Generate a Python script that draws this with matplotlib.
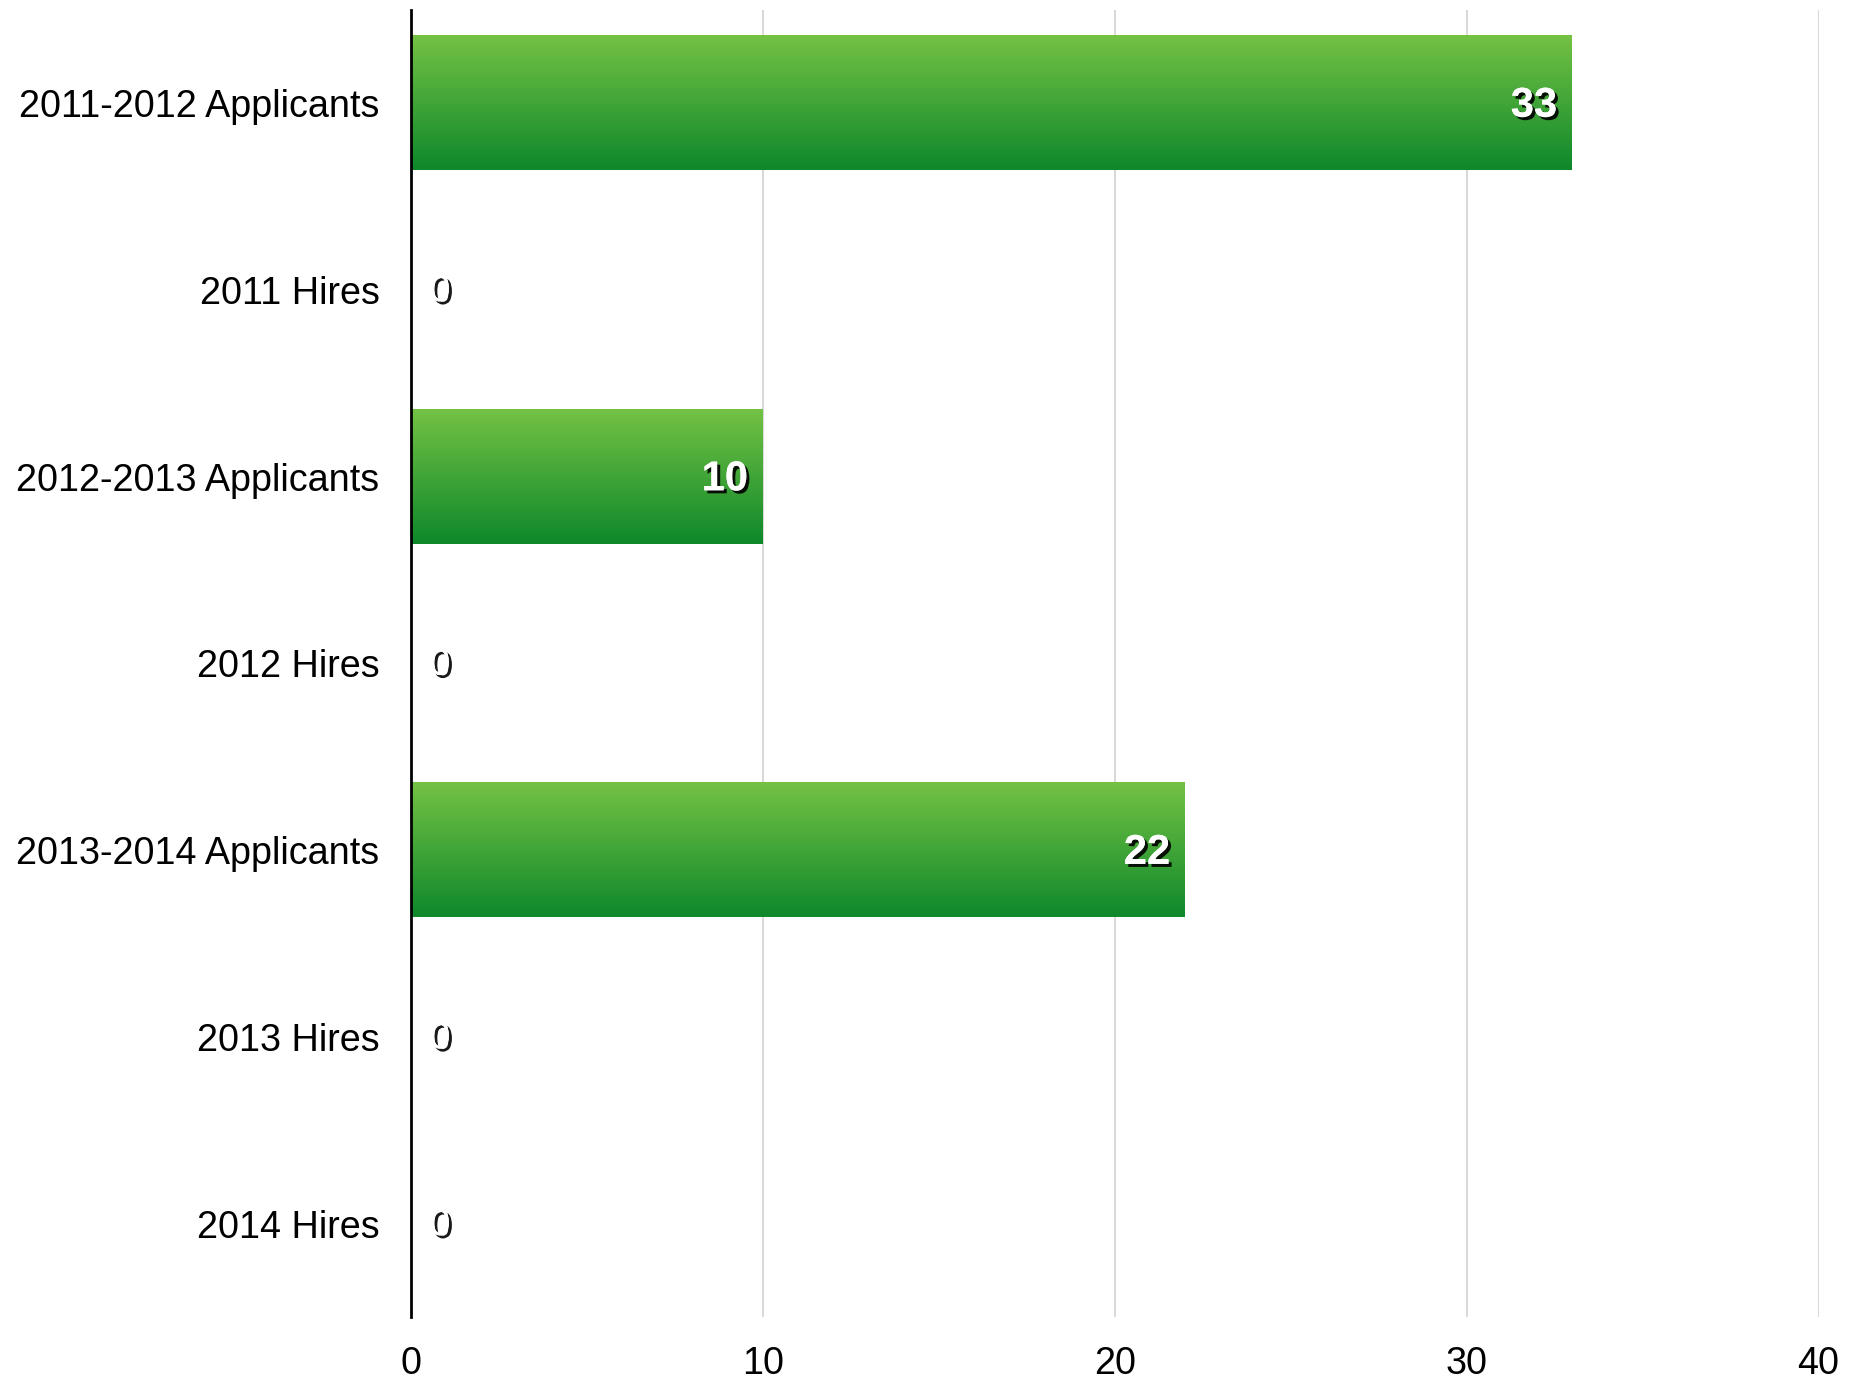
import numpy as np
import matplotlib
matplotlib.use("Agg")
import matplotlib.pyplot as plt
import matplotlib.patheffects as pe
from matplotlib.colors import LinearSegmentedColormap

categories = ["2011-2012 Applicants", "2011 Hires", "2012-2013 Applicants",
              "2012 Hires", "2013-2014 Applicants", "2013 Hires", "2014 Hires"]
values = [33, 0, 10, 0, 22, 0, 0]
x_ticks = [0, 10, 20, 30, 40]

plt.rcParams["font.family"] = ["Liberation Sans", "DejaVu Sans"]

fig = plt.figure(figsize=(18.65, 13.82), dpi=100)
ax = fig.add_axes([0.2206, 0.047, 0.7545, 0.9461])

ypos = np.arange(len(categories))
bars = ax.barh(ypos, values, height=0.72, color="none", edgecolor="none", zorder=2)

# vertical green gradient, light on top, dark at the bottom
green = LinearSegmentedColormap.from_list("green", ["#0e882b", "#74c244"])
grad = np.linspace(0, 1, 256).reshape(-1, 1)
for b in bars:
    w = b.get_width()
    if w <= 0:
        continue
    y0, h = b.get_y(), b.get_height()
    ax.imshow(grad, cmap=green, aspect="auto", origin="upper",
              extent=(0, w, y0, y0 + h), zorder=2, interpolation="bilinear")

shadow = [pe.withSimplePatchShadow(offset=(2.2, -2.2), shadow_rgbFace="black", alpha=0.9),
          pe.Normal()]
for y, v in zip(ypos, values):
    if v > 0:
        ax.annotate(str(v), (v, y), xytext=(-11, -2), textcoords="offset points",
                    ha="right", va="center", fontsize=30, fontweight="bold",
                    color="white", path_effects=shadow, zorder=4)
    else:
        ax.annotate(str(v), (v, y), xytext=(13, -1), textcoords="offset points",
                    ha="left", va="center", fontsize=27,
                    color="white", path_effects=shadow, zorder=4)

ax.set_xlim(0, 40)
ax.set_ylim(len(categories) - 0.5, -0.5)
ax.set_xticks(x_ticks)
ax.set_yticks(ypos)
ax.set_yticklabels(categories)
ax.tick_params(axis="both", length=0, labelsize=27.2, colors="black")
ax.tick_params(axis="x", pad=21)
ax.tick_params(axis="y", pad=23)

ax.grid(axis="x", color="#d9d9d9", linewidth=1.5, zorder=0)
ax.set_axisbelow(True)
for side in ("top", "right", "bottom"):
    ax.spines[side].set_visible(False)
ax.spines["left"].set_linewidth(2)
ax.spines["left"].set_color("black")
ax.spines["left"].set_zorder(5)

fig.savefig("out.png", dpi=100)
